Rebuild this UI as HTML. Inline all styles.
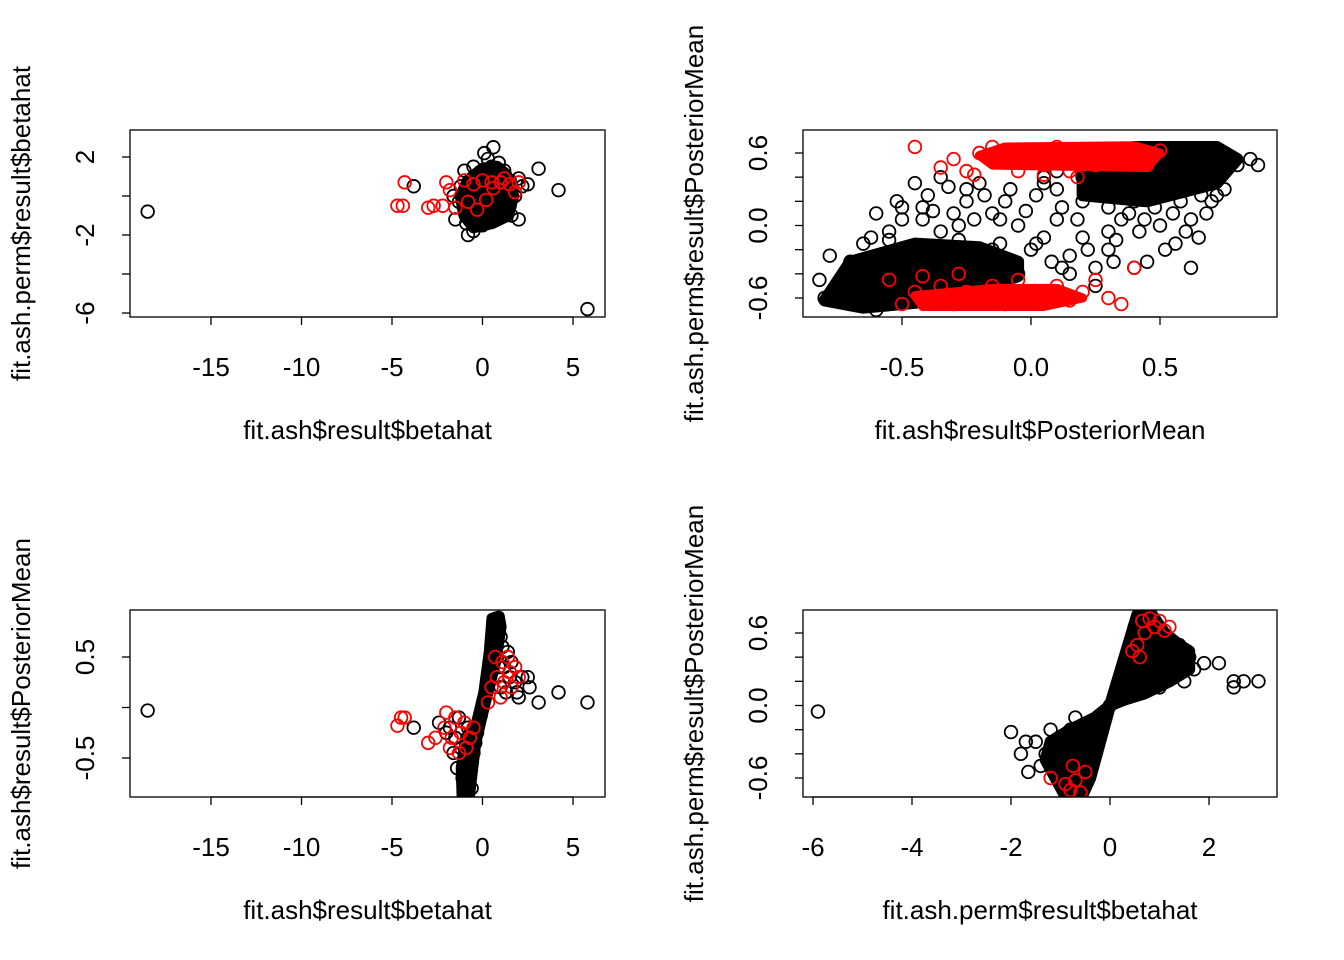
<!DOCTYPE html>
<html><head><meta charset="utf-8"><style>
html,body{margin:0;padding:0;background:#fff}
svg{display:block;font-family:"Liberation Sans",Arial,sans-serif}
</style></head><body>
<svg id="fig" width="1344" height="960" viewBox="0 0 1344 960" xmlns="http://www.w3.org/2000/svg"></svg>
<script>
// ---- Panel 1: betahat vs perm betahat ----
const p1BlackX=[-18.5,5.8,4.2,3.1,-3.8,0.6,0.1,0.3,-1.5,-0.8,-0.5,0,0.5,1,2,1.5,2.2,2.5,-1,-0.5,0.5,1.2,1.5,-1.2,-0.8,-0.3,0.2,0.7,1,-0.5,0,0.4,0.8,-1,1.8,-1.6,0.2,-0.2,0.6,1.2,-0.6,0,0.3,-1.3,1.6,0.9,-0.2,1.4,2.0,-0.9];
const p1BlackY=[-0.8,-5.8,0.3,1.4,0.5,2.5,2.2,1.9,-1.2,-2,-1.8,-1.5,-1.3,-1,-1.2,-0.5,0.5,0.6,1.3,1.5,1.5,1.3,0.8,0.5,0,0.3,0.6,0.2,0.6,-0.5,-0.8,-0.4,-0.8,-0.6,0,0,0,1,1,-0.2,0.8,1.3,-1,-0.3,-1,1.7,-1.2,0.3,0.9,-1.4];
const p1RedX=[-4.3,-4.7,-4.4,-3,-2.7,-2,-2.2,-1.5,-1,-0.5,0,0.5,1,1.5,2,1.8,0.6,-0.8,-1.8,0.2,1.2,-0.3];
const p1RedY=[0.7,-0.5,-0.5,-0.6,-0.5,0.7,-0.5,-0.6,0.8,0.6,0.8,0.7,0.7,0.6,0.7,0.2,0.4,-0.3,0.3,-0.2,0.9,-0.7];
const p1BlobX=[-1.0,-0.5,0.5,1.4,1.7,1.3,0.8,0,-0.8,-1.2];
const p1BlobY=[-1.0,-1.6,-1.4,-1.0,0,1.1,1.5,1.4,0.8,0];

// ---- Panel 2: PosteriorMean vs perm PosteriorMean ----
const p2BlackX=[-0.8,-0.75,-0.7,-0.65,-0.6,-0.55,-0.5,-0.5,-0.45,-0.4,-0.4,-0.35,-0.3,-0.3,-0.25,-0.2,-0.15,-0.1,-0.05,-0.7,-0.65,-0.55,-0.5,-0.45,-0.6,-0.35,-0.3,-0.25,-0.4,-0.45,-0.35,-0.2,-0.15,-0.1,-0.05,0,0.05,0.1,0.15,0.2,0.1,0.2,0.25,0.3,0.35,0.4,0.4,0.45,0.5,0.5,0.55,0.6,0.6,0.65,0.7,0.7,0.75,0.8,0.85,0.88,0.75,0.7,0.65,0.6,0.55,0.45,0.4,0.3,0.3,0.35,0.2,0.1,0.05,0.5,0.62,0.15,0.25,-0.82,-0.78,-0.6,0.45,0.55,0.3,
-0.55,-0.5,-0.48,-0.42,-0.38,-0.32,-0.28,-0.22,-0.18,-0.12,-0.08,-0.02,0.02,0.08,0.12,0.18,0.22,0.28,0.33,0.38,0.42,0.48,0.52,0.58,0.62,0.68,0.72,-0.62,-0.52,-0.42,-0.28,-0.12,0.02,0.12,0.22,0.32,0.36,0.44,0.56,0.66,-0.25,-0.15,0.05,0.25];
const p2BlackY=[-0.6,-0.5,-0.65,-0.4,-0.55,-0.3,-0.45,-0.6,-0.2,-0.35,-0.5,-0.25,-0.4,-0.55,-0.3,-0.45,-0.35,-0.3,-0.4,-0.3,-0.15,-0.05,0.05,-0.6,-0.7,-0.05,0.1,0.2,0.25,0.35,0.4,0.35,0.1,0.2,0,-0.2,-0.1,0.05,-0.25,-0.1,0.3,0.2,0.4,0.15,0.3,0.45,0.2,0.35,0.5,0.25,0.4,0.6,0.3,0.5,0.4,0.6,0.55,0.5,0.55,0.5,0.3,0.2,-0.1,-0.05,0.1,-0.3,-0.35,-0.2,-0.05,0.05,0.4,0.45,0.35,0,-0.35,-0.4,-0.5,-0.45,-0.25,0.1,0.6,0.62,0.55,
-0.12,0.15,-0.25,0.05,0.12,0.32,-0.12,0.05,0.25,-0.15,0.3,0.12,0.25,-0.3,0.15,0.05,-0.2,0.25,-0.12,0.1,-0.05,0.15,-0.2,0.2,0.05,0.1,0.25,-0.1,0.2,0.15,0.0,0.05,-0.15,-0.35,0.35,-0.3,0.3,0.05,-0.15,0.25,0.3,-0.2,0.4,-0.35];
const p2RedX=[-0.45,-0.3,-0.25,-0.2,-0.1,0,0.05,0.1,0.15,0.2,0.25,0.3,0.35,0.4,0.45,0.5,-0.05,-0.15,0.15,-0.5,-0.45,-0.4,-0.35,-0.3,-0.25,-0.2,-0.15,-0.1,0,0.05,0.1,0.2,0.25,0.3,0.35,0.4,-0.05,0.15,-0.35,-0.22,0.05,0.18,-0.55,-0.42,-0.28];
const p2RedY=[0.65,0.55,0.45,0.6,0.55,0.6,0.5,0.65,0.55,0.6,0.5,0.62,0.55,0.6,0.5,0.62,0.45,0.65,0.45,-0.65,-0.55,-0.6,-0.5,-0.65,-0.55,-0.6,-0.5,-0.65,-0.55,-0.6,-0.5,-0.55,-0.45,-0.6,-0.65,-0.35,-0.45,-0.62,0.48,0.42,0.42,0.4,-0.45,-0.42,-0.4];
const p2BlobAX=[-0.8,-0.65,-0.35,-0.05,-0.05,-0.2,-0.45,-0.7];
const p2BlobAY=[-0.62,-0.68,-0.62,-0.42,-0.3,-0.18,-0.15,-0.3];
const p2BlobBX=[0.2,0.45,0.72,0.8,0.72,0.4,0.2];
const p2BlobBY=[0.25,0.2,0.35,0.55,0.65,0.65,0.45];
const p2RedBlobAX=[-0.15,0.45,0.5,0.4,-0.1,-0.2];
const p2RedBlobAY=[0.5,0.48,0.6,0.66,0.65,0.58];
const p2RedBlobBX=[-0.45,-0.15,0.1,0.2,0.05,-0.42];
const p2RedBlobBY=[-0.58,-0.52,-0.52,-0.6,-0.67,-0.67];

// ---- Panel 3: betahat vs PosteriorMean ----
const p3BlackX=[-0.9,-0.8,-0.7,-0.6,-0.5,-0.4,-0.3,-0.2,-0.1,0,0.1,0.2,0.3,0.4,0.5,0.6,0.7,0.8,0.9,1,1.1,0.8,-1.1,-0.8,-1.2,-1.5,-1.8,-2,-2.4,-1.3,-0.8,1.2,1.5,1.8,2.2,2.5,1.3,1.0,2.0,-18.5,5.8,4.2,3.1,2.6,-3.8,-0.6,0.6,1.4,-1.0,0.9,1.6,1.9,-1.6,-1.4];
const p3BlackY=[-0.8,-0.75,-0.65,-0.55,-0.45,-0.35,-0.25,-0.15,-0.08,0,0.08,0.15,0.25,0.35,0.45,0.55,0.65,0.75,0.82,0.7,0.6,0.5,-0.7,-0.5,-0.4,-0.3,-0.2,-0.25,-0.15,-0.1,-0.2,0.4,0.3,0.25,0.3,0.3,0.15,0.2,0.1,-0.03,0.05,0.15,0.05,0.2,-0.2,-0.8,0.85,0.55,-0.55,0.4,0.45,0.15,-0.45,-0.6];
const p3RedX=[-4.7,-4.5,-4.3,-3.0,-2.6,-2.1,-2.0,-1.7,-1.5,-1.2,-0.9,-0.7,-0.5,0.5,0.8,1,1.2,1.4,1.6,1.8,2.0,1.1,0.7,-1.8,-1.3,-1.0,0.3,1.5];
const p3RedY=[-0.18,-0.1,-0.1,-0.35,-0.3,-0.2,-0.05,-0.3,-0.1,-0.25,-0.4,-0.3,-0.2,0.2,0.3,0.1,0.25,0.5,0.2,0.4,0.3,0.45,0.5,-0.4,-0.45,-0.15,0.05,0.35];
const p3BlobX=[-1.1,-0.75,-0.4,0.2,0.7,1.0,0.9,0.55,0.4,0.1,-0.3,-0.9,-1.15];
const p3BlobY=[-0.88,-0.88,-0.35,0.1,0.45,0.8,0.9,0.88,0.55,0.15,-0.15,-0.3,-0.6];

// ---- Panel 4: perm betahat vs perm PosteriorMean ----
const p4BlackX=[-0.8,-0.7,-0.6,-0.5,-0.4,-0.3,-0.2,-0.1,0,0.1,0.2,0.3,0.4,0.5,0.6,0.7,0.8,0.9,1.0,1.1,1.2,1.3,1.4,1.5,1.6,1.7,1.9,1.2,0.9,1.0,1.5,-1.5,-1.3,-1.2,-1.0,-0.9,-0.8,-0.6,-1.4,-1.1,-0.7,-5.9,2.2,2.5,2.5,2.7,3.0,-2.0,-1.8,-1.7,-1.65,-0.5,0.5];
const p4BlackY=[-0.75,-0.65,-0.55,-0.45,-0.38,-0.28,-0.18,-0.09,0,0.09,0.18,0.28,0.38,0.45,0.55,0.65,0.75,0.7,0.6,0.5,0.55,0.45,0.5,0.35,0.4,0.3,0.35,0.3,0.35,0.15,0.2,-0.3,-0.4,-0.2,-0.35,-0.5,-0.2,-0.3,-0.5,-0.55,-0.1,-0.05,0.35,0.2,0.15,0.2,0.2,-0.22,-0.4,-0.3,-0.55,-0.65,0.65];
const p4RedX=[0.55,0.7,0.8,0.9,1.0,1.1,1.2,0.6,-0.9,-0.8,-0.7,-0.6,-1.2,-0.5,0.45,0.65,-0.75];
const p4RedY=[0.5,0.6,0.72,0.65,0.7,0.62,0.65,0.4,-0.65,-0.7,-0.62,-0.72,-0.6,-0.55,0.45,0.7,-0.5];
const p4BlobX=[0,0.55,0.85,1.1,1.4,1.6,1.6,1.2,0.7,0.3,0,-0.3,-0.8,-1.2,-1.3,-1.1,-0.9,-0.6,-0.4];
const p4BlobY=[0,0.75,0.75,0.6,0.5,0.45,0.3,0.2,0.1,0.05,0,-0.1,-0.2,-0.3,-0.45,-0.6,-0.75,-0.78,-0.6];

const NS="http://www.w3.org/2000/svg";
const svg=document.getElementById('fig');
function mk(tag,attrs,parent){const e=document.createElementNS(NS,tag);for(const k in attrs)e.setAttribute(k,attrs[k]);(parent||svg).appendChild(e);return e;}
function scale(d0,d1,p0,p1){return v=>p0+(v-d0)*(p1-p0)/(d1-d0);}
const FS=26;

function panel(cfg){
  const g=mk('g',{});
  
  
  const sx=scale(cfg.xd[0],cfg.xd[1],cfg.xp[0],cfg.xp[1]);
  const sy=scale(cfg.yd[0],cfg.yd[1],cfg.yp[0],cfg.yp[1]);
  const clip=mk('clipPath',{id:'c'+cfg.id},g);
  mk('rect',{x:cfg.box[0],y:cfg.box[1],width:cfg.box[2]-cfg.box[0],height:cfg.box[3]-cfg.box[1]},clip);
  const pg=mk('g',{'clip-path':'url(#c'+cfg.id+')'},g);
  
  
  cfg.blobs.forEach(b=>{
    const pts=b.x.map((v,i)=>sx(v)+','+sy(b.y[i])).join(' ');
    const p=mk('polygon',{points:pts,fill:b.c,stroke:b.c,'stroke-width':12,'stroke-linejoin':'round'},pg);
    
    
  });
  cfg.series.forEach(s=>{
    s.x.forEach((v,i)=>{
      const c=mk('circle',{cx:sx(v),cy:sy(s.y[i]),r:6.3,fill:'none',stroke:s.c,'stroke-width':1.8},pg);
      
      
    });
  });
  cfg.redBlobs.forEach(b=>{
    const pts=b.x.map((v,i)=>sx(v)+','+sy(b.y[i])).join(' ');
    const p=mk('polygon',{points:pts,fill:'#f00',stroke:'#f00','stroke-width':9,'stroke-linejoin':'round'},pg);
    
    
  });
  const box=mk('rect',{x:cfg.box[0],y:cfg.box[1],width:cfg.box[2]-cfg.box[0],height:cfg.box[3]-cfg.box[1],fill:'none',stroke:'#000','stroke-width':1.3},g);
  
  
  const xt=cfg.xticks, xl=cfg.xlabels;
  mk('line',{x1:sx(xt[0]),x2:sx(xt[xt.length-1]),y1:cfg.box[3],y2:cfg.box[3],stroke:'#000','stroke-width':1.3},g);
  xt.forEach((v,i)=>{
    const t=mk('line',{x1:sx(v),x2:sx(v),y1:cfg.box[3],y2:cfg.box[3]+8,stroke:'#000','stroke-width':1.3},g);
    
    
    const tx=mk('text',{x:sx(v),y:cfg.box[3]+59,'text-anchor':'middle','font-size':FS},g);
    tx.textContent=xl[i];
    
    
  });
  const yt=cfg.yticks, yl=cfg.ylabels;
  yt.forEach((v,i)=>{
    const t=mk('line',{x1:cfg.box[0]-8,x2:cfg.box[0],y1:sy(v),y2:sy(v),stroke:'#000','stroke-width':1.3},g);
    
    
    if(yl[i]!==''){
      const X=cfg.box[0]-36, Y=sy(v);
      const tx=mk('text',{x:X,y:Y,'text-anchor':'middle','font-size':FS,transform:'rotate(-90 '+X+' '+Y+')'},g);
      tx.textContent=yl[i];
      
      
    }
  });
  const xlab=mk('text',{x:(cfg.box[0]+cfg.box[2])/2,y:cfg.box[3]+122,'text-anchor':'middle','font-size':FS},g);
  xlab.textContent=cfg.xtitle;
  
  
  const YX=cfg.box[0]-100, YY=(cfg.box[1]+cfg.box[3])/2;
  const ylab=mk('text',{x:YX,y:YY,'text-anchor':'middle','font-size':FS,transform:'rotate(-90 '+YX+' '+YY+')'},g);
  ylab.textContent=cfg.ytitle;
  
  
}

panel({id:1,name:'panel-betahat-vs-perm-betahat',box:[130,130,605,317],xd:[-15,5],xp:[211,573],yd:[2,-6],yp:[157,313],
 xticks:[-15,-10,-5,0,5],xlabels:['-15','-10','-5','0','5'],yticks:[2,0,-2,-4,-6],ylabels:['2','','-2','','-6'],
 xtitle:'fit.ash$result$betahat',ytitle:'fit.ash.perm$result$betahat',
 blobs:[{x:p1BlobX,y:p1BlobY,c:'#000'}],redBlobs:[],
 series:[{x:p1BlackX,y:p1BlackY,c:'#000',n:'point-black'},{x:p1RedX,y:p1RedY,c:'#f00',n:'point-red'}]});
panel({id:2,name:'panel-posteriormean-vs-perm',box:[803,130,1277,317],xd:[-0.5,0.5],xp:[902,1160],yd:[0.6,-0.6],yp:[153,298],
 xticks:[-0.5,0,0.5],xlabels:['-0.5','0.0','0.5'],yticks:[0.6,0.4,0.2,0,-0.2,-0.4,-0.6],ylabels:['0.6','','','0.0','','','-0.6'],
 xtitle:'fit.ash$result$PosteriorMean',ytitle:'fit.ash.perm$result$PosteriorMean',
 blobs:[{x:p2BlobAX,y:p2BlobAY,c:'#000'},{x:p2BlobBX,y:p2BlobBY,c:'#000'}],
 redBlobs:[{x:p2RedBlobAX,y:p2RedBlobAY},{x:p2RedBlobBX,y:p2RedBlobBY}],
 series:[{x:p2BlackX,y:p2BlackY,c:'#000',n:'point-black'},{x:p2RedX,y:p2RedY,c:'#f00',n:'point-red'}]});
panel({id:3,name:'panel-betahat-vs-posteriormean',box:[130,610,605,797],xd:[-15,5],xp:[211,573],yd:[0.5,-0.5],yp:[657,758],
 xticks:[-15,-10,-5,0,5],xlabels:['-15','-10','-5','0','5'],yticks:[0.5,0,-0.5],ylabels:['0.5','','-0.5'],
 xtitle:'fit.ash$result$betahat',ytitle:'fit.ash$result$PosteriorMean',
 blobs:[{x:p3BlobX,y:p3BlobY,c:'#000'}],redBlobs:[],
 series:[{x:p3BlackX,y:p3BlackY,c:'#000',n:'point-black'},{x:p3RedX,y:p3RedY,c:'#f00',n:'point-red'}]});
panel({id:4,name:'panel-perm-betahat-vs-perm-posteriormean',box:[803,610,1277,797],xd:[-6,2],xp:[813,1209],yd:[0.6,-0.6],yp:[633,778],
 xticks:[-6,-4,-2,0,2],xlabels:['-6','-4','-2','0','2'],yticks:[0.6,0.4,0.2,0,-0.2,-0.4,-0.6],ylabels:['0.6','','','0.0','','','-0.6'],
 xtitle:'fit.ash.perm$result$betahat',ytitle:'fit.ash.perm$result$PosteriorMean',
 blobs:[{x:p4BlobX,y:p4BlobY,c:'#000'}],redBlobs:[],
 series:[{x:p4BlackX,y:p4BlackY,c:'#000',n:'point-black'},{x:p4RedX,y:p4RedY,c:'#f00',n:'point-red'}]});
</script>
</body></html>
